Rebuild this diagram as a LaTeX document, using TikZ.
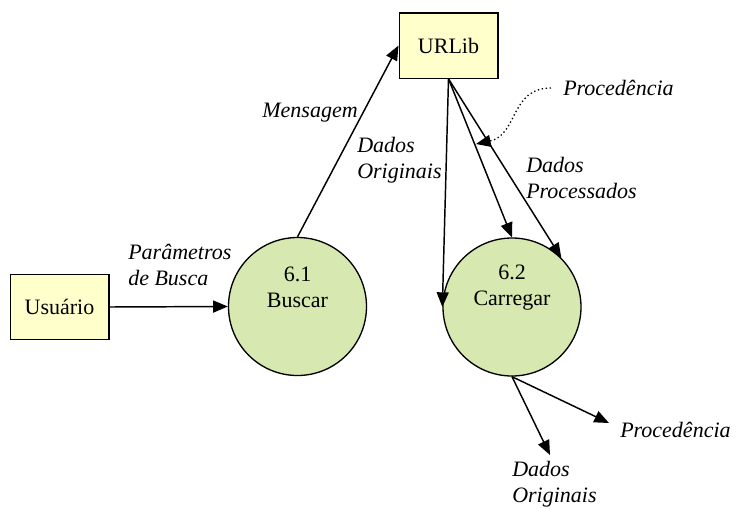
\documentclass[tikz,border=0pt]{standalone}
\usepackage{fontspec}
\setmainfont{Liberation Serif}
\usetikzlibrary{arrows.meta}
\definecolor{amarelocaixa}{RGB}{255,255,204}
\definecolor{verdeproc}{RGB}{215,232,176}
\newcommand{\fonte}{\fontsize{16.5}{19.5}\selectfont\rmfamily}
\tikzset{
  entidade/.style={draw, line width=1pt, fill=amarelocaixa, minimum width=74pt, minimum height=49pt, inner sep=0pt},
  processo/.style={draw, line width=1pt, circle, fill=verdeproc, minimum size=103.5pt, inner sep=0pt},
  fluxo/.style={line width=1.1pt, -{Triangle[length=11pt,width=9pt]}},
  rotulo/.style={font=\fonte\itshape, align=left, inner sep=0pt},
}
\begin{document}
\begin{tikzpicture}[x=0.75pt, y=-0.75pt, font=\fonte]
            \useasboundingbox (0,0) rectangle (736,508);
            % 实体与处理
            \node[entidade] (usuario) at (59.5,307) {Usuário};
            \node[entidade] (urlib) at (448.5,45.5) {URLib};
            \node[processo] (buscar) at (297.5,306.5) {};
            \node[align=center] (buscartxt) at (297.5,287.5) {6.1\\Buscar};
            \node[processo] (carregar) at (512,307) {};
            \node[align=center] (carregartxt) at (512,287.5) {6.2\\Carregar};

            % 数据流
            \draw[fluxo] (usuario.east) -- (buscar.west);
            \draw[fluxo] (buscar.north) -- (urlib.west);
            \draw[fluxo] (urlib.south) -- (carregar.west);
            \draw[fluxo] (urlib.south) -- (carregar.north);
            \draw[fluxo] (urlib.south) -- (carregar.north east);
            \coordinate (fimdados) at (550,455);
            \coordinate (fimproc) at (609,423);
            \draw[fluxo] (carregar.south) -- (fimdados);
            \draw[fluxo] (carregar.south) -- (fimproc);

            % 标签
            \node[rotulo] (mensagem) at (310,113) {Mensagem};
            \node[rotulo, anchor=west] (dadosorig) at (357,160) {Dados\\Originais};
            \node[rotulo, anchor=west] (procsup) at (563,88) {Procedência};
            \node[rotulo, anchor=west] (dadosproc) at (526,178) {Dados\\Processados};
            \node[rotulo, anchor=west] (parametros) at (128,265) {Parâmetros\\de Busca};
            \node[rotulo, anchor=west] (procinf) at (620,430) {Procedência};
            \node[rotulo, anchor=west] (dadosinf) at (512,484) {Dados\\Originais};

            % 虚线指示
            \coordinate (procseta) at (476,144);
            \draw[dotted, line width=1pt, -{Triangle[length=11pt,width=9pt]}] ([xshift=-9pt]procsup.west) .. controls (510,88) and (518,135) .. (procseta);
        \end{tikzpicture}
\end{document}
